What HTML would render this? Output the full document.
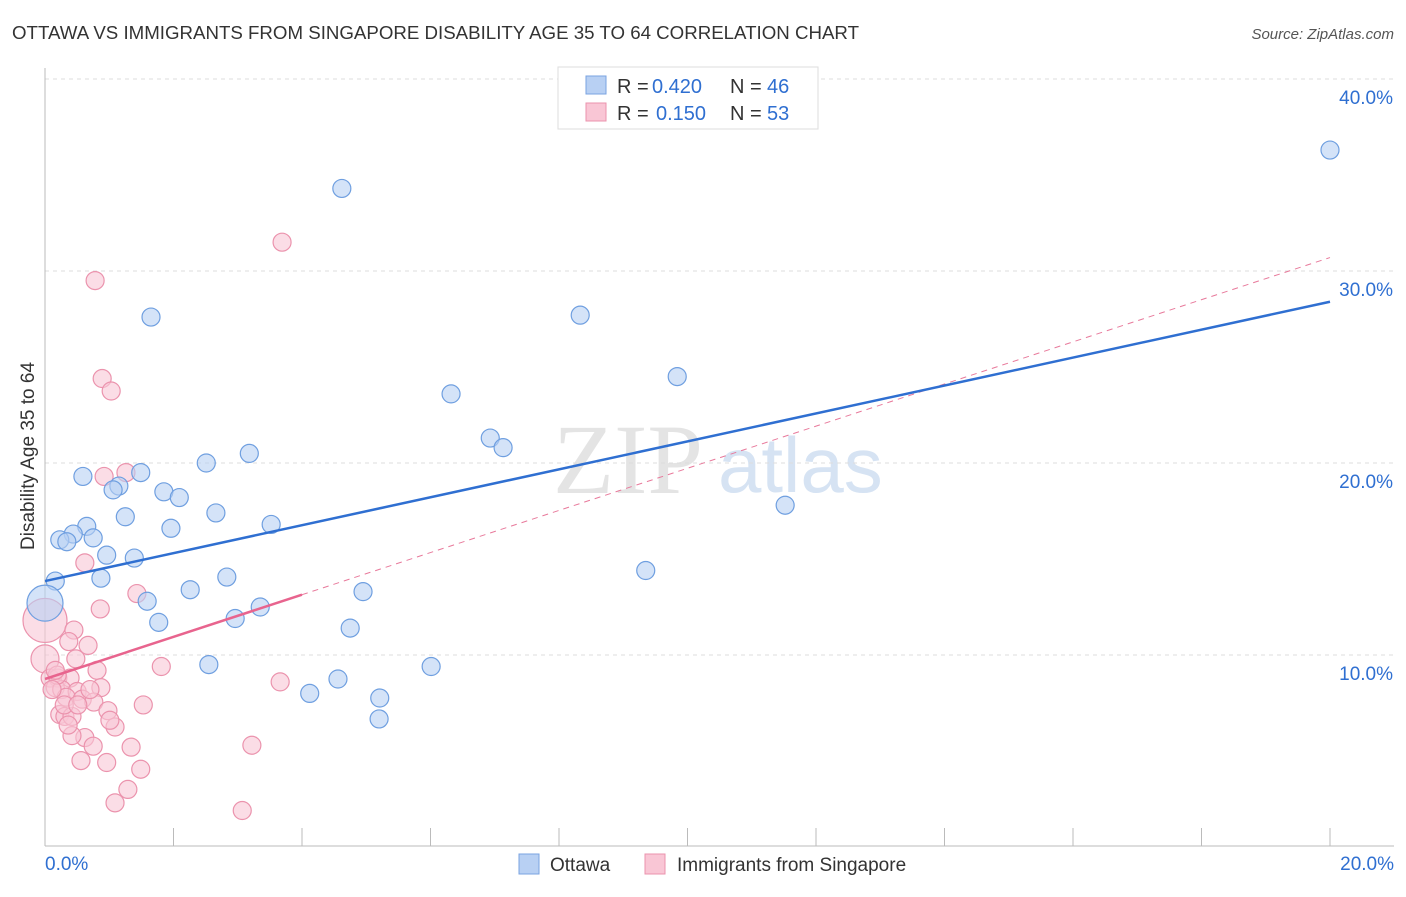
<!DOCTYPE html>
<html><head><meta charset="utf-8"><style>
body{margin:0;background:#fff;font-family:"Liberation Sans",sans-serif}
</style></head><body>
<svg id="c" width="1406" height="892" xmlns="http://www.w3.org/2000/svg" font-family="Liberation Sans, sans-serif">
<text x="12" y="39" font-size="18.7" fill="#333">OTTAWA VS IMMIGRANTS FROM SINGAPORE DISABILITY AGE 35 TO 64 CORRELATION CHART</text>
<text x="1394" y="39" font-size="15" fill="#555" text-anchor="end" font-style="italic">Source: ZipAtlas.com</text>
<text x="34" y="456" font-size="19" fill="#333" text-anchor="middle" transform="rotate(-90 34 456)">Disability Age 35 to 64</text>
<text x="553" y="493" font-size="100" fill="#e4e4e4" font-family="Liberation Serif, serif">ZIP</text>
<text x="718" y="492" font-size="78" fill="#d6e3f3">atlas</text>
<g id="grid"></g><g id="axes"></g><g id="pts"></g><g id="lines"></g>
<g>
<rect x="558" y="67" width="260" height="62" fill="#fff" stroke="#ddd"/>
<rect x="586" y="76" width="20" height="18" fill="#b8d0f3" stroke="#7aa3e0"/>
<rect x="586" y="103" width="20" height="18" fill="#f9c6d5" stroke="#eb93ad"/>
<text x="617" y="93" font-size="20" fill="#333">R =</text>
<text x="652" y="93" font-size="20" fill="#2f6fd1">0.420</text>
<text x="730" y="93" font-size="20" fill="#333">N =</text>
<text x="767" y="93" font-size="20" fill="#2f6fd1">46</text>
<text x="617" y="120" font-size="20" fill="#333">R =</text>
<text x="656" y="120" font-size="20" fill="#2f6fd1">0.150</text>
<text x="730" y="120" font-size="20" fill="#333">N =</text>
<text x="767" y="120" font-size="20" fill="#2f6fd1">53</text>
</g>
<g>
<rect x="519" y="854" width="20" height="20" fill="#b8d0f3" stroke="#7aa3e0"/>
<text x="550" y="871" font-size="19" fill="#333">Ottawa</text>
<rect x="645" y="854" width="20" height="20" fill="#f9c6d5" stroke="#eb93ad"/>
<text x="677" y="871" font-size="19" fill="#333">Immigrants from Singapore</text>
</g>
</svg>
<script>
const yTicks=[10,20,30,40];
const yTickLabels=["10.0%","20.0%","30.0%","40.0%"];
const xTickLabels=["0.0%","20.0%"];
const blueX=[20,4.62,1.65,8.33,9.84,6.32,6.93,7.13,3.18,2.51,1.49,0.59,1.15,1.06,1.85,2.09,11.52,2.66,1.25,3.52,1.96,0.65,0.44,0.23,0.34,0.75,0.96,1.39,0.16,0.87,2.83,9.35,2.26,1.59,0,4.95,3.35,2.96,1.77,4.75,2.55,6.01,4.12,4.56,5.21,5.2];
const blueY=[36.3,34.3,27.6,27.7,24.5,23.6,21.3,20.8,20.5,20,19.5,19.3,18.8,18.6,18.5,18.2,17.8,17.4,17.2,16.8,16.6,16.7,16.3,16,15.9,16.1,15.2,15.05,13.85,14,14.06,14.4,13.4,12.8,12.7,13.3,12.5,11.9,11.7,11.4,9.5,9.4,8,8.75,7.76,6.67];
const blueBig=[34];
const pinkX=[3.69,0.78,0.89,1.03,1.26,0.92,0.62,1.43,0.86,0,0.45,0.37,0.67,0,0.48,1.81,0.81,3.66,0.08,0.2,0.39,0.16,0.26,0.5,0.87,0.33,0.58,0.76,1.53,0.98,0.23,0.31,0.42,1.09,0.62,0.42,0.75,1.34,3.22,0.56,0.96,1.49,1.29,1.09,3.07,0.19,0.11,0.3,0.51,0.16,0.7,1.01,0.36];
const pinkY=[31.5,29.5,24.4,23.75,19.5,19.3,14.8,13.2,12.4,11.8,11.3,10.7,10.5,9.8,9.8,9.4,9.2,8.6,8.8,8.8,8.8,8.3,8.2,8.1,8.3,7.8,7.7,7.55,7.4,7.1,6.9,6.8,6.8,6.25,5.7,5.8,5.25,5.2,5.3,4.5,4.4,4.05,3,2.3,1.9,8.95,8.2,7.4,7.4,9.2,8.2,6.6,6.35];
const pinkBig=[9,13];
const blueTrend=[13.85,28.4];
const pinkTrend=[8.75,30.7];
const pinkSolidEnd=4;
const NS="http://www.w3.org/2000/svg";
const xs=v=>45+v/20*1285, ys=v=>847-v*19.2;
function mk(t,a,p){const e=document.createElementNS(NS,t);for(const k in a)e.setAttribute(k,a[k]);document.getElementById(p).appendChild(e);return e;}
yTicks.forEach((t,i)=>{
 const g=mk('line',{x1:45,x2:1394,y1:ys(t),y2:ys(t),stroke:'#ddd','stroke-dasharray':'4,4'},'grid');
 
 
 const l=mk('text',{x:1393,y:ys(t)+25,'font-size':19,fill:'#2f6fd1','text-anchor':'end'},'axes');l.textContent=yTickLabels[i];
 
 
});
mk('line',{x1:45,x2:45,y1:68,y2:846,stroke:'#bbb'},'axes');
mk('line',{x1:45,x2:1394,y1:846,y2:846,stroke:'#bbb'},'axes');
for(let i=1;i<=10;i++){const t=mk('line',{x1:xs(i*2),x2:xs(i*2),y1:828,y2:846,stroke:'#bbb'},'axes');}
[[0,'start',45],[20,'end',1394]].forEach((d,i)=>{const l=mk('text',{x:d[2],y:870,'font-size':19,fill:'#2f6fd1','text-anchor':d[1]},'axes');l.textContent=xTickLabels[i];
 
 });
function pts(X,Y,big,fill,stroke,name){X.forEach((x,i)=>{const r=big.indexOf(i)>=0?(i===13?14:(name==='ottawa-point'?18:22)):9;
 const c=mk('circle',{cx:xs(x),cy:ys(Y[i]),r:r,fill:fill,'fill-opacity':0.6,stroke:stroke,'stroke-width':1.2},'pts');
 
 });}
pts(pinkX,pinkY,pinkBig,'#f9c6d5','#eb93ad','singapore-point');
pts(blueX,blueY,blueBig,'#b8d0f3','#6f9fe0','ottawa-point');
const pY=x=>pinkTrend[0]+(pinkTrend[1]-pinkTrend[0])*x/20;
let ln=mk('line',{x1:xs(pinkSolidEnd),y1:ys(pY(pinkSolidEnd)),x2:xs(20),y2:ys(pinkTrend[1]),stroke:'#e8799b','stroke-width':1,'stroke-dasharray':'6,5'},'lines');


ln=mk('line',{x1:xs(0),y1:ys(pinkTrend[0]),x2:xs(pinkSolidEnd),y2:ys(pY(pinkSolidEnd)),stroke:'#e8648e','stroke-width':2.5},'lines');


ln=mk('line',{x1:xs(0),y1:ys(blueTrend[0]),x2:xs(20),y2:ys(blueTrend[1]),stroke:'#2f6fd1','stroke-width':2.5},'lines');


</script>
</body></html>
